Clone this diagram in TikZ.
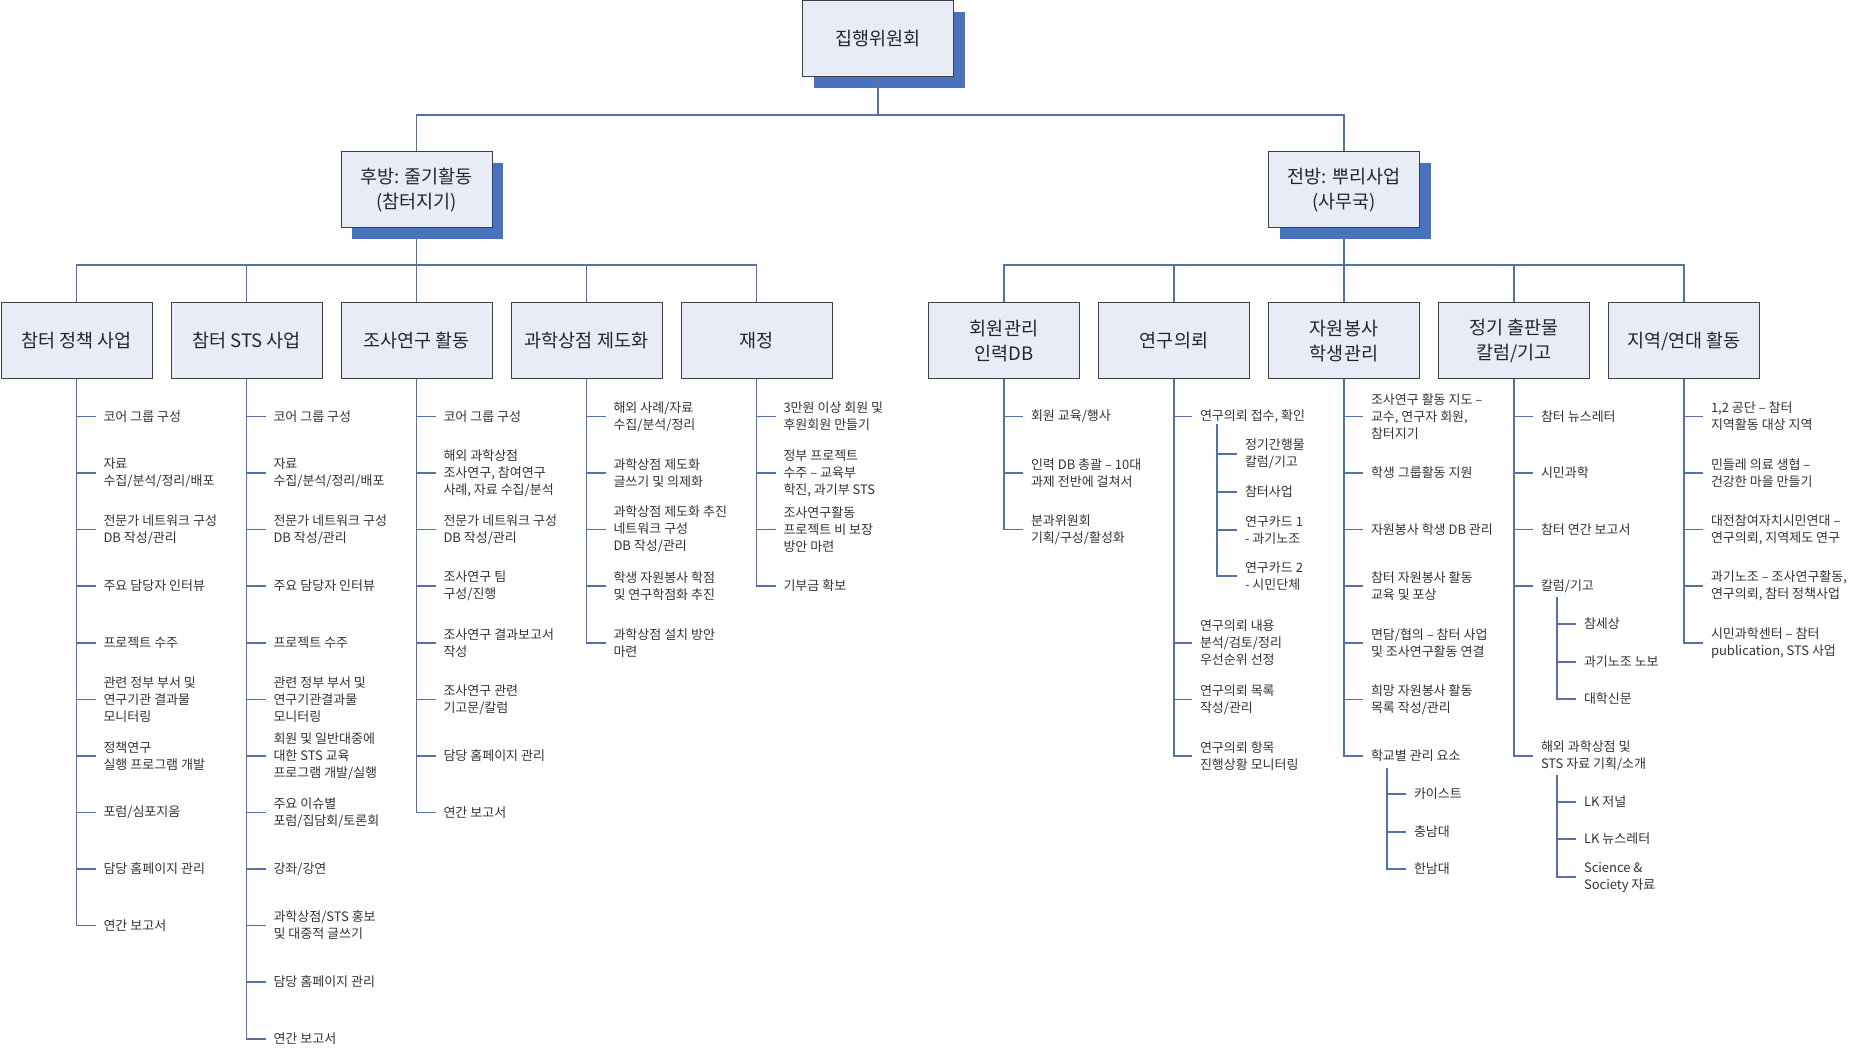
\documentclass[tikz,border=0pt]{standalone}
\usepackage{fontspec}
\setmainfont{Noto Sans CJK KR}
\usepackage{tikz}
\usetikzlibrary{positioning,shadows}
\definecolor{boxfill}{RGB}{231,236,247}
\definecolor{boxshadow}{RGB}{72,114,190}
\definecolor{linkblue}{RGB}{86,113,165}
\definecolor{boxline}{RGB}{64,64,64}

\begin{document}
\begin{tikzpicture}[x=1pt, y=-1pt,
	box/.style={draw=boxline, line width=1pt, fill=boxfill, minimum width=151pt, minimum height=76pt, align=center, text=black!85, font=\fontsize{18.5}{25}\selectfont},
	head/.style={box, drop shadow={shadow xshift=11pt, shadow yshift=-11pt, fill=boxshadow, opacity=1, draw=none}},
	item/.style={anchor=west, inner sep=0pt, outer xsep=8pt, align=left, text=black!80, font=\fontsize{13}{17}\selectfont},
	conn/.style={draw=linkblue, line width=1.1pt},
	vh/.style={to path={|- (\tikztotarget)}}]
		\useasboundingbox (0,0) rectangle (1866,1048);

		% top levels
		\node[head] (top) at (878,39) {집행위원회};
		\node[head] (back) at (416.5,190) {후방: 줄기활동\\(참터지기)};
		\node[head] (front) at (1344,190) {전방: 뿌리사업\\(사무국)};

		\node[box] (c1) at (76.5,341) {참터 정책 사업};
		\node[box] (c2) [right=18pt of c1] {참터 STS 사업};
		\node[box] (c3) [right=18pt of c2] {조사연구 활동};
		\node[box] (c4) [right=18pt of c3] {과학상점 제도화};
		\node[box] (c5) [right=18pt of c4] {재정};
		\node[box] (c6) at (1004,341) {회원관리\\인력DB};
		\node[box] (c7) [right=18pt of c6] {연구의뢰};
		\node[box] (c8) [right=18pt of c7] {자원봉사\\학생관리};
		\node[box] (c9) [right=18pt of c8] {정기 출판물\\칼럼/기고};
		\node[box] (c10) [right=18pt of c9] {지역/연대 활동};

		\coordinate (j0) at (878,115);
		\coordinate (j1) at (416.5,265);
		\coordinate (j2) at (1344,265);

		% 참터 정책 사업
		\node[item] (c1a) at (95.5,416.5) {코어 그룹 구성};
		\node[item] (c1b) at (95.5,473) {자료\\수집/분석/정리/배포};
		\node[item] (c1c) at (95.5,529.5) {전문가 네트워크 구성\\DB 작성/관리};
		\node[item] (c1d) at (95.5,586) {주요 담당자 인터뷰};
		\node[item] (c1e) at (95.5,643) {프로젝트 수주};
		\node[item] (c1f) at (95.5,699.5) {관련 정부 부서 및\\연구기관 결과물\\모니터링};
		\node[item] (c1g) at (95.5,756) {정책연구\\실행 프로그램 개발};
		\node[item] (c1h) at (95.5,812.5) {포럼/심포지움};
		\node[item] (c1i) at (95.5,869) {담당 홈페이지 관리};
		\node[item] (c1j) at (95.5,925.5) {연간 보고서};

		% 참터 STS 사업
		\node[item] (c2a) at (265.5,416.5) {코어 그룹 구성};
		\node[item] (c2b) at (265.5,473) {자료\\수집/분석/정리/배포};
		\node[item] (c2c) at (265.5,529.5) {전문가 네트워크 구성\\DB 작성/관리};
		\node[item] (c2d) at (265.5,586) {주요 담당자 인터뷰};
		\node[item] (c2e) at (265.5,643) {프로젝트 수주};
		\node[item] (c2f) at (265.5,699.5) {관련 정부 부서 및\\연구기관결과물\\모니터링};
		\node[item] (c2g) at (265.5,756) {회원 및 일반대중에\\대한 STS 교육\\프로그램 개발/실행};
		\node[item] (c2h) at (265.5,812.5) {주요 이슈별\\포럼/집담회/토론회};
		\node[item] (c2i) at (265.5,869) {강좌/강연};
		\node[item] (c2j) at (265.5,925.5) {과학상점/STS 홍보\\및 대중적 글쓰기};
		\node[item] (c2k) at (265.5,982) {담당 홈페이지 관리};
		\node[item] (c2l) at (265.5,1039) {연간 보고서};

		% 조사연구 활동
		\node[item] (c3a) at (435.5,416.5) {코어 그룹 구성};
		\node[item] (c3b) at (435.5,473) {해외 과학상점\\조사연구, 참여연구\\사례, 자료 수집/분석};
		\node[item] (c3c) at (435.5,529.5) {전문가 네트워크 구성\\DB 작성/관리};
		\node[item] (c3d) at (435.5,586) {조사연구 팀\\구성/진행};
		\node[item] (c3e) at (435.5,643) {조사연구 결과보고서\\작성};
		\node[item] (c3f) at (435.5,699.5) {조사연구 관련\\기고문/칼럼};
		\node[item] (c3g) at (435.5,756) {담당 홈페이지 관리};
		\node[item] (c3h) at (435.5,812.5) {연간 보고서};

		% 과학상점 제도화
		\node[item] (c4a) at (605.5,416.5) {해외 사례/자료\\수집/분석/정리};
		\node[item] (c4b) at (605.5,473) {과학상점 제도화\\글쓰기 및 의제화};
		\node[item] (c4c) at (605.5,529.5) {과학상점 제도화 추진\\네트워크 구성\\DB 작성/관리};
		\node[item] (c4d) at (605.5,586) {학생 자원봉사 학점\\및 연구학점화 추진};
		\node[item] (c4e) at (605.5,643) {과학상점 설치 방안\\마련};

		% 재정
		\node[item] (c5a) at (775.5,416.5) {3만원 이상 회원 및\\후원회원 만들기};
		\node[item] (c5b) at (775.5,473) {정부 프로젝트\\수주 – 교육부\\학진, 과기부 STS};
		\node[item] (c5c) at (775.5,529.5) {조사연구활동\\프로젝트 비 보장\\방안 마련};
		\node[item] (c5d) at (775.5,586) {기부금 확보};

		% 회원관리
		\node[item] (c6a) at (1023,416.5) {회원 교육/행사};
		\node[item] (c6b) at (1023,473) {인력 DB 총괄 – 10대\\과제 전반에 걸쳐서};
		\node[item] (c6c) at (1023,529.5) {분과위원회\\기획/구성/활성화};

		% 연구의뢰
		\node[item] (c7a) at (1192,416.5) {연구의뢰 접수, 확인};
		\coordinate (c7s) at (1217,424);
		\node[item] (c7a1) at (1237,454) {정기간행물\\칼럼/기고};
		\node[item] (c7a2) at (1237,492) {참터사업};
		\node[item] (c7a3) at (1237,530) {연구카드 1\\- 과기노조};
		\node[item] (c7a4) at (1237,576) {연구카드 2\\- 시민단체};
		\node[item] (c7b) at (1192,643) {연구의뢰 내용\\분석/검토/정리\\우선순위 선정};
		\node[item] (c7c) at (1192,699.5) {연구의뢰 목록\\작성/관리};
		\node[item] (c7d) at (1192,756) {연구의뢰 항목\\진행상황 모니터링};

		% 자원봉사
		\node[item] (c8a) at (1363,416.5) {조사연구 활동 지도 –\\교수, 연구자 회원,\\참터지기};
		\node[item] (c8b) at (1363,473) {학생 그룹활동 지원};
		\node[item] (c8c) at (1363,529.5) {자원봉사 학생 DB 관리};
		\node[item] (c8d) at (1363,586) {참터 자원봉사 활동\\교육 및 포상};
		\node[item] (c8e) at (1363,643) {면담/협의 – 참터 사업\\및 조사연구활동 연결};
		\node[item] (c8f) at (1363,699.5) {희망 자원봉사 활동\\목록 작성/관리};
		\node[item] (c8g) at (1363,756) {학교별 관리 요소};
		\coordinate (c8s) at (1387,768);
		\node[item] (c8g1) at (1406,794) {카이스트};
		\node[item] (c8g2) at (1406,832) {충남대};
		\node[item] (c8g3) at (1406,869) {한남대};

		% 정기 출판물
		\node[item] (c9a) at (1533,416.5) {참터 뉴스레터};
		\node[item] (c9b) at (1533,473) {시민과학};
		\node[item] (c9c) at (1533,529.5) {참터 연간 보고서};
		\node[item] (c9d) at (1533,586) {칼럼/기고};
		\coordinate (c9s) at (1557,597);
		\node[item] (c9d1) at (1576,624) {참세상};
		\node[item] (c9d2) at (1576,662) {과기노조 노보};
		\node[item] (c9d3) at (1576,699) {대학신문};
		\node[item] (c9e) at (1533,756) {해외 과학상점 및\\STS 자료 기획/소개};
		\coordinate (c9t) at (1557,775);
		\node[item] (c9e1) at (1576,802) {LK 저널};
		\node[item] (c9e2) at (1576,839) {LK 뉴스레터};
		\node[item] (c9e3) at (1576,877) {Science \&\\Society 자료};

		% 지역/연대 활동
		\node[item] (c10a) at (1703,416.5) {1,2 공단 – 참터\\지역활동 대상 지역};
		\node[item] (c10b) at (1703,473) {민들레 의료 생협 –\\건강한 마을 만들기};
		\node[item] (c10c) at (1703,529.5) {대전참여자치시민연대 –\\연구의뢰, 지역제도 연구};
		\node[item] (c10d) at (1703,586) {과기노조 – 조사연구활동,\\연구의뢰, 참터 정책사업};
		\node[item] (c10e) at (1703,643) {시민과학센터 – 참터\\publication, STS 사업};

		\path[conn]
		(top.south) edge (j0)
		(j0) edge[to path={-| (\tikztotarget)}] (back.north)
		(j0) edge[to path={-| (\tikztotarget)}] (front.north)
		(back.south) edge (j1)
		(front.south) edge (j2)
		(j1) edge[to path={-| (\tikztotarget)}] (c1.north)
		(j1) edge[to path={-| (\tikztotarget)}] (c2.north)
		(j1) edge[to path={-| (\tikztotarget)}] (c3.north)
		(j1) edge[to path={-| (\tikztotarget)}] (c4.north)
		(j1) edge[to path={-| (\tikztotarget)}] (c5.north)
		(j2) edge[to path={-| (\tikztotarget)}] (c6.north)
		(j2) edge[to path={-| (\tikztotarget)}] (c7.north)
		(j2) edge[to path={-| (\tikztotarget)}] (c8.north)
		(j2) edge[to path={-| (\tikztotarget)}] (c9.north)
		(j2) edge[to path={-| (\tikztotarget)}] (c10.north)
		;

		\path[conn]
		(c1.south) edge[vh] (c1a.west) edge[vh] (c1b.west) edge[vh] (c1c.west) edge[vh] (c1d.west) edge[vh] (c1e.west)
		edge[vh] (c1f.west) edge[vh] (c1g.west) edge[vh] (c1h.west) edge[vh] (c1i.west) edge[vh] (c1j.west)
		(c2.south) edge[vh] (c2a.west) edge[vh] (c2b.west) edge[vh] (c2c.west) edge[vh] (c2d.west) edge[vh] (c2e.west) edge[vh] (c2f.west)
		edge[vh] (c2g.west) edge[vh] (c2h.west) edge[vh] (c2i.west) edge[vh] (c2j.west) edge[vh] (c2k.west) edge[vh] (c2l.west)
		(c3.south) edge[vh] (c3a.west) edge[vh] (c3b.west) edge[vh] (c3c.west) edge[vh] (c3d.west)
		edge[vh] (c3e.west) edge[vh] (c3f.west) edge[vh] (c3g.west) edge[vh] (c3h.west)
		(c4.south) edge[vh] (c4a.west) edge[vh] (c4b.west) edge[vh] (c4c.west) edge[vh] (c4d.west) edge[vh] (c4e.west)
		(c5.south) edge[vh] (c5a.west) edge[vh] (c5b.west) edge[vh] (c5c.west) edge[vh] (c5d.west)
		(c6.south) edge[vh] (c6a.west) edge[vh] (c6b.west) edge[vh] (c6c.west)
		(c7.south) edge[vh] (c7a.west) edge[vh] (c7b.west) edge[vh] (c7c.west) edge[vh] (c7d.west)
		(c7s) edge[vh] (c7a1.west) edge[vh] (c7a2.west) edge[vh] (c7a3.west) edge[vh] (c7a4.west)
		(c8.south) edge[vh] (c8a.west) edge[vh] (c8b.west) edge[vh] (c8c.west) edge[vh] (c8d.west)
		edge[vh] (c8e.west) edge[vh] (c8f.west) edge[vh] (c8g.west)
		(c8s) edge[vh] (c8g1.west) edge[vh] (c8g2.west) edge[vh] (c8g3.west)
		(c9.south) edge[vh] (c9a.west) edge[vh] (c9b.west) edge[vh] (c9c.west) edge[vh] (c9d.west) edge[vh] (c9e.west)
		(c9s) edge[vh] (c9d1.west) edge[vh] (c9d2.west) edge[vh] (c9d3.west)
		(c9t) edge[vh] (c9e1.west) edge[vh] (c9e2.west) edge[vh] (c9e3.west)
		(c10.south) edge[vh] (c10a.west) edge[vh] (c10b.west) edge[vh] (c10c.west) edge[vh] (c10d.west) edge[vh] (c10e.west)
		;
	\end{tikzpicture}
\end{document}
